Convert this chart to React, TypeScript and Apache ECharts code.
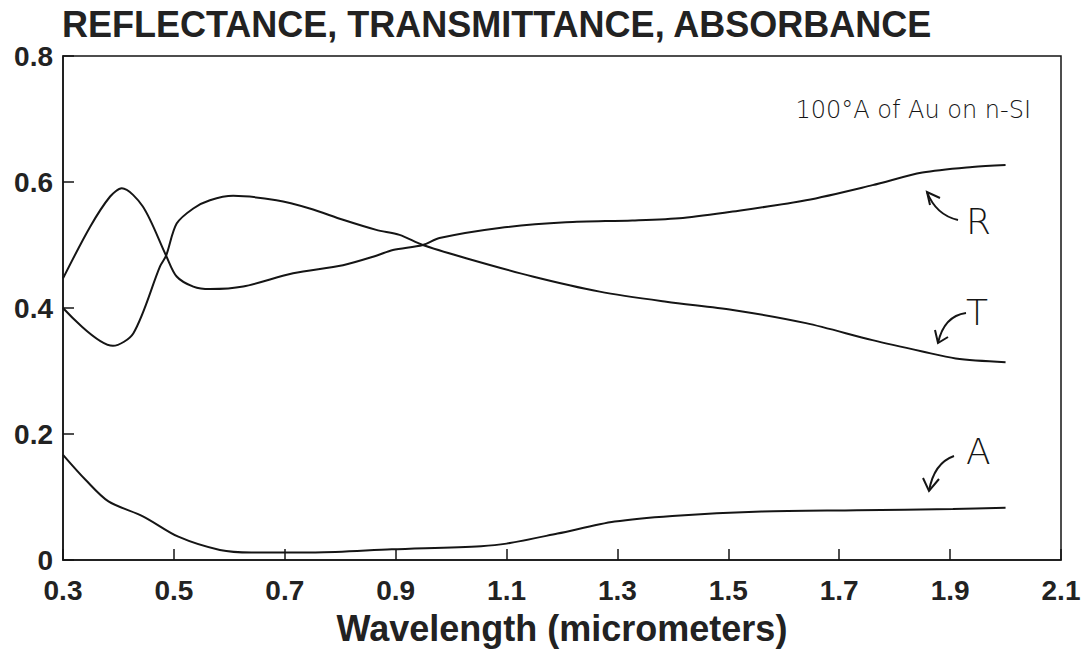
import React, { useEffect, useRef } from "react";
import * as echarts from "echarts";

const TITLE = "REFLECTANCE, TRANSMITTANCE, ABSORBANCE";
const X_NAME = "Wavelength (micrometers)";
const NOTE = "100°A of Au on n-SI";

const X_MIN = 0.3;
const X_MAX = 2.1;
const X_STEP = 0.2;
const Y_MIN = 0;
const Y_MAX = 0.8;
const Y_STEP = 0.2;

// Reflectance
const rX = [0.3, 0.349, 0.385, 0.406, 0.444, 0.486, 0.505, 0.535, 0.565, 0.625, 0.715, 0.805, 0.865, 0.895, 0.949, 0.979, 1.087, 1.207, 1.327, 1.418, 1.508, 1.64, 1.76, 1.85, 1.94, 2.0];
const rV = [0.447, 0.529, 0.577, 0.59, 0.561, 0.483, 0.45, 0.434, 0.43, 0.434, 0.455, 0.468, 0.483, 0.492, 0.5, 0.511, 0.527, 0.536, 0.539, 0.543, 0.553, 0.571, 0.595, 0.615, 0.624, 0.627];

// Transmittance
const tX = [0.3, 0.39, 0.427, 0.475, 0.486, 0.505, 0.535, 0.565, 0.607, 0.685, 0.745, 0.805, 0.865, 0.907, 0.949, 1.027, 1.147, 1.268, 1.388, 1.508, 1.64, 1.76, 1.85, 1.91, 2.0];
const tV = [0.4, 0.34, 0.36, 0.466, 0.483, 0.534, 0.558, 0.571, 0.578, 0.571, 0.558, 0.54, 0.524, 0.516, 0.5, 0.479, 0.45, 0.426, 0.41, 0.397, 0.376, 0.349, 0.331, 0.32, 0.314];

// Absorbance
const aX = [0.3, 0.341, 0.382, 0.445, 0.508, 0.583, 0.64, 0.755, 0.893, 1.054, 1.1, 1.192, 1.295, 1.399, 1.56, 1.732, 1.905, 2.0];
const aV = [0.167, 0.127, 0.093, 0.069, 0.037, 0.016, 0.012, 0.012, 0.017, 0.022, 0.026, 0.042, 0.061, 0.07, 0.077, 0.079, 0.081, 0.083];

const SERIES_NAMES = ["R", "T", "A"];

const pairs = (xs: number[], vs: number[]) => xs.map((x, i) => [x, vs[i]]);

const INK = "#151515";
const BOLD_FONT = "'Liberation Sans', Arial, Helvetica, sans-serif";
const THIN_FONT = "'DejaVu Sans', 'Liberation Sans', sans-serif";

export default function App() {
  const ref = useRef<HTMLDivElement>(null);

  useEffect(() => {
    if (!ref.current) return;
    const chart = echarts.init(ref.current, undefined, { renderer: "svg" });

    const lineSeries = (name: string, data: number[][]) => ({
      name,
      type: "line",
      data,
      smooth: 0.3,
      showSymbol: false,
      symbol: "none",
      lineStyle: { color: INK, width: 2 },
      z: 3,
    });

    const arrow = (
      x1: number, y1: number, cx: number, cy: number, x2: number, y2: number,
      h1: [number, number], h2: [number, number]
    ) => [
      {
        type: "bezierCurve",
        shape: { x1, y1, cpx1: cx, cpy1: cy, x2, y2 },
        style: { stroke: INK, lineWidth: 2, fill: "none" },
      },
      {
        type: "polyline",
        shape: { points: [h1, [x2, y2], h2] },
        style: { stroke: INK, lineWidth: 2, fill: "none" },
      },
    ];

    const letter = (text: string, x: number, y: number) => ({
      type: "text",
      x,
      y,
      style: {
        text,
        fill: INK,
        fontSize: 36,
        fontWeight: 200,
        fontFamily: THIN_FONT,
        textAlign: "left",
        textVerticalAlign: "middle",
      },
    });

    chart.setOption({
      animation: false,
      backgroundColor: "#ffffff",
      title: {
        text: TITLE,
        left: 62,
        top: 6,
        padding: 0,
        textStyle: {
          fontSize: 36,
          fontWeight: "bold",
          fontFamily: BOLD_FONT,
          color: "#222",
        },
      },
      grid: {
        left: 63,
        right: 25,
        top: 56,
        bottom: 105,
        show: true,
        borderColor: INK,
        borderWidth: 1.5,
        backgroundColor: "transparent",
      },
      xAxis: {
        type: "value",
        min: X_MIN,
        max: X_MAX,
        interval: X_STEP,
        name: X_NAME,
        nameLocation: "middle",
        nameGap: 50,
        nameTextStyle: {
          fontSize: 36,
          fontWeight: "bold",
          fontFamily: BOLD_FONT,
          color: "#222",
        },
        axisLine: { show: true, lineStyle: { color: INK, width: 1.5 } },
        axisTick: { show: true, inside: true, length: 11, lineStyle: { color: INK, width: 1.5 } },
        splitLine: { show: false },
        axisLabel: {
          margin: 16,
          fontSize: 28,
          fontWeight: "bold",
          fontFamily: BOLD_FONT,
          color: "#222",
          formatter: (v: number) => v.toFixed(1),
        },
      },
      yAxis: {
        type: "value",
        min: Y_MIN,
        max: Y_MAX,
        interval: Y_STEP,
        axisLine: { show: true, lineStyle: { color: INK, width: 1.5 } },
        axisTick: { show: true, inside: true, length: 11, lineStyle: { color: INK, width: 1.5 } },
        splitLine: { show: false },
        axisLabel: {
          margin: 10,
          fontSize: 28,
          fontWeight: "bold",
          fontFamily: BOLD_FONT,
          color: "#222",
          formatter: (v: number) => (Math.abs(v) < 1e-9 ? "0" : v.toFixed(1)),
        },
      },
      series: [
        lineSeries(SERIES_NAMES[0], pairs(rX, rV)),
        lineSeries(SERIES_NAMES[1], pairs(tX, tV)),
        lineSeries(SERIES_NAMES[2], pairs(aX, aV)),
      ],
      graphic: [
        {
          type: "text",
          x: 1031,
          y: 110,
          style: {
            text: NOTE,
            fill: INK,
            fontSize: 24,
            fontWeight: 300,
            fontFamily: THIN_FONT,
            textAlign: "right",
            textVerticalAlign: "middle",
          },
        },
        letter(SERIES_NAMES[0], 966, 221),
        letter(SERIES_NAMES[1], 966, 312),
        letter(SERIES_NAMES[2], 966, 451),
        ...arrow(958, 220, 936, 215, 927, 192, [930, 205], [940, 198]),
        ...arrow(966, 313, 944, 316, 938, 343, [935, 330], [948, 337]),
        ...arrow(954, 456, 934, 463, 929, 491, [923, 478], [939, 479]),
      ],
    });

    return () => chart.dispose();
  }, []);

  return (
    <div
      ref={ref}
      style={{ position: "fixed", left: 0, top: 0, width: 1086, height: 665, background: "#fff" }}
    />
  );
}
